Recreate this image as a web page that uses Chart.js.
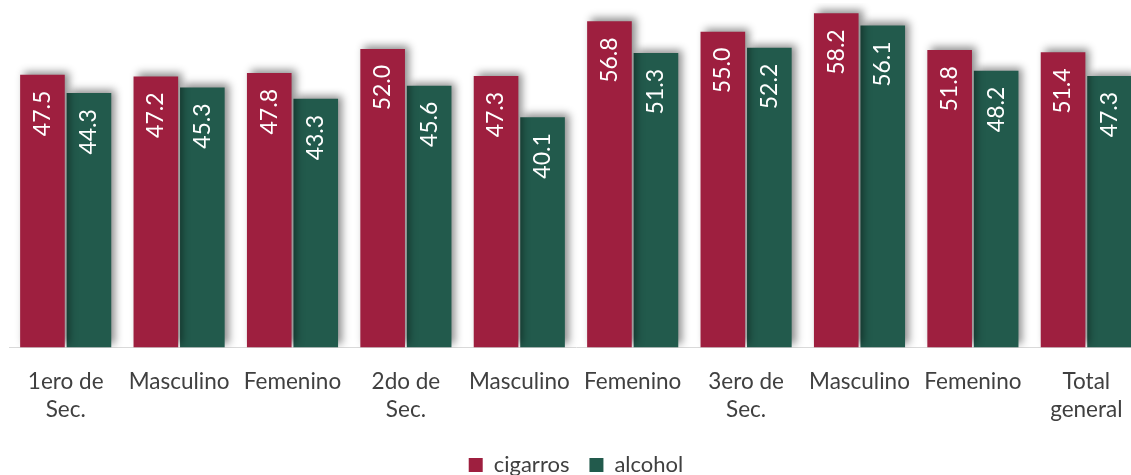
<!DOCTYPE html>
<html>
<head>
<meta charset="utf-8">
<script src="https://cdn.jsdelivr.net/npm/chart.js@4"></script>
<style>
html,body{margin:0;padding:0;background:#fff;overflow:hidden;}
#wrap{position:relative;width:1143px;height:486px;}
</style>
</head>
<body>
<div id="wrap"><canvas id="c"></canvas></div>
<script>
const categories = [["1ero de","Sec."],"Masculino","Femenino",["2do de","Sec."],"Masculino","Femenino",["3ero de","Sec."],"Masculino","Femenino",["Total","general"]];
const cigarros = [47.5,47.2,47.8,52.0,47.3,56.8,55.0,58.2,51.8,51.4];
const alcohol = [44.3,45.3,43.3,45.6,40.1,51.3,52.2,56.1,48.2,47.3];
const seriesNames = ["cigarros","alcohol"];
const FONT = "Lato, 'Noto Sans', sans-serif";

const shadowPlugin = {
  id:'shadow',
  beforeDatasetDraw(chart){
    const ctx = chart.ctx;
    ctx.save();
    ctx.shadowColor='rgba(0,0,0,0.45)';
    ctx.shadowBlur=8;
    ctx.shadowOffsetX=4;
    ctx.shadowOffsetY=-3;
  },
  afterDatasetDraw(chart){ chart.ctx.restore(); }
};
const labelPlugin = {
  id:'vlabels',
  afterDatasetsDraw(chart){
    const ctx = chart.ctx;
    chart.data.datasets.forEach((ds,i)=>{
      const meta = chart.getDatasetMeta(i);
      meta.data.forEach((bar,j)=>{
        ctx.save();
        ctx.translate(bar.x, bar.y + 16);
        ctx.rotate(-Math.PI/2);
        ctx.fillStyle='#ffffff';
        ctx.font = "23px " + FONT;
        ctx.textAlign='right';
        ctx.textBaseline='middle';
        ctx.fillText(ds.data[j].toFixed(1),0,0);
        ctx.restore();
      });
    });
  }
};

new Chart(document.getElementById('c'),{
  type:'bar',
  data:{
    labels:categories,
    datasets:[
      {label:seriesNames[0],data:cigarros,backgroundColor:'#9E1F3F'},
      {label:seriesNames[1],data:alcohol,backgroundColor:'#225A4C'}
    ]
  },
  options:{
    responsive:true,maintainAspectRatio:false,animation:false,
    categoryPercentage:0.82,barPercentage:0.96,
    layout:{padding:{left:9,top:3,right:0,bottom:0}},
    scales:{
      y:{display:false,min:0,max:60},
      x:{grid:{display:false,drawTicks:false},border:{color:'#d9d9d9',width:1},
         afterFit(scale){ scale.height = 86.6; },
         ticks:{font:{family:FONT,size:22.5,lineHeight:1.25},color:'#404040',padding:20,maxRotation:0,autoSkip:false}}
    },
    plugins:{
      legend:{position:'bottom',labels:{font:{family:FONT,size:22},color:'#404040',boxWidth:14,boxHeight:14,padding:20}},
      tooltip:{enabled:false}
    }
  },
  plugins:[shadowPlugin,labelPlugin]
});
</script>
</body>
</html>
